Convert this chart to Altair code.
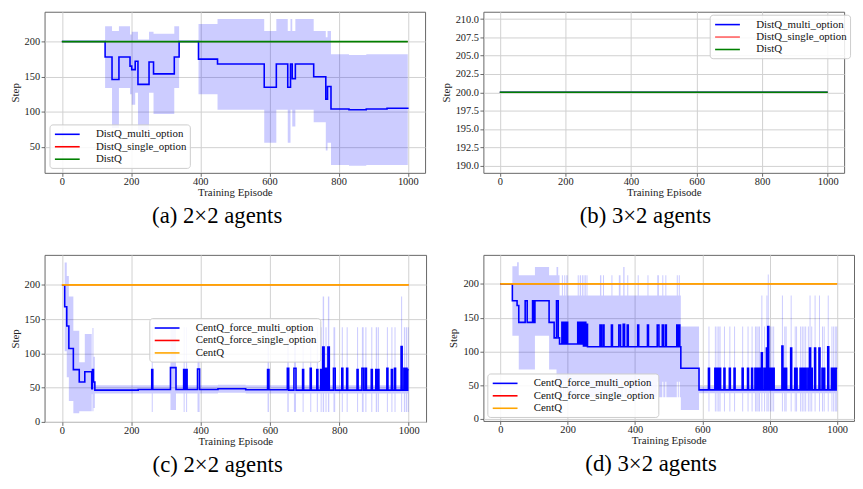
import altair as alt
import pandas as pd

FONT = "Liberation Serif, Times New Roman, Times, serif"

# ---------------- shared ----------------
x_ticks = [0, 200, 400, 600, 800, 1000]
flat_ep = [0, 1000]
flat_val = [200, 200]

# ---------------- (a) 2x2 DistQ ----------------
a_ep = [0, 125, 145, 165, 197, 202, 212, 220, 252, 265,
        325, 339, 395, 450, 585, 620, 653, 661, 666, 675,
        728, 763, 768, 778, 830, 880, 940, 1000]
a_mean = [200, 178, 146, 178, 165, 160, 172, 139, 171, 154,
          178, 200, 175, 168, 135, 168, 135, 168, 147, 168,
          150, 118, 136, 104, 103, 104, 105, 104]
a_lo = [200, 134, 77, 134, 125, 110, 127, 74, 127, 97,
        134, 200, 125, 103, 56, 103, 56, 103, 79, 103,
        85, 45, 56, 24, 23, 24, 24, 24]
a_hi = [200, 222, 215, 222, 210, 214, 214, 203, 214, 211,
        222, 200, 225, 232, 215, 232, 215, 232, 215, 232,
        215, 206, 215, 182, 181, 182, 182, 182]

# ---------------- (b) 3x2 DistQ ----------------
b_ep = [0, 1000]
b_mean = [200, 200]

# ---------------- (c) 2x2 CentQ ----------------
c_ep = [0, 8, 14, 20, 33, 50, 66, 86, 88, 91,
        95, 220, 259, 262, 313, 329, 351, 354, 358, 361,
        391, 397, 450, 530, 593, 597, 650, 654, 669, 675,
        694, 697, 716, 719, 735, 738, 746, 749, 752, 756,
        760, 763, 767, 771, 783, 788, 807, 810, 821, 824,
        851, 854, 865, 870, 875, 878, 892, 895, 905, 909,
        911, 914, 937, 940, 950, 953, 959, 962, 978, 981,
        986, 990, 992, 995, 997, 1000]
c_mean = [200, 168, 140, 107, 76, 58, 73, 48, 76, 58,
          46, 47, 76, 47, 79, 47, 76, 47, 76, 47,
          77, 47, 48, 46.5, 76, 46.5, 78, 46, 78, 46,
          76, 46, 78, 46, 76, 46, 76, 46, 109, 46,
          78, 46, 109, 46, 78, 46, 78, 46, 78, 46,
          76, 46, 78, 46, 78, 46, 76, 46, 76, 46,
          76, 46, 78, 46, 76, 46, 78, 46, 110, 46,
          78, 46, 78, 46, 76, 76]
c_lo = [200, 103, 65, 30, 12, 15, 15, 40, 15, 20,
        41, 41, 14, 41, 17, 41, 14, 41, 14, 41,
        14, 41, 42, 41, 14, 41, 14, 41, 14, 41,
        14, 41, 14, 41, 14, 41, 14, 41, 14, 41,
        14, 41, 14, 41, 14, 41, 14, 41, 14, 41,
        14, 41, 14, 41, 14, 41, 14, 41, 14, 41,
        14, 41, 14, 41, 14, 41, 14, 41, 14, 41,
        14, 41, 14, 41, 14, 14]
c_hi = [200, 233, 213, 183, 133, 87, 128, 56, 137, 95,
        53, 53, 138, 53, 138, 53, 138, 53, 138, 53,
        138, 53, 54, 53, 138, 53, 138, 53, 138, 53,
        138, 53, 138, 53, 138, 53, 138, 53, 183, 53,
        138, 53, 183, 53, 138, 53, 138, 53, 138, 53,
        138, 53, 138, 53, 138, 53, 138, 53, 138, 53,
        138, 53, 138, 53, 138, 53, 138, 53, 183, 53,
        138, 53, 138, 53, 138, 138]

# ---------------- (d) 3x2 CentQ ----------------
d_ep = [0, 36, 50, 55, 74, 80, 96, 99, 103, 145,
        160, 167, 172, 176, 183, 186, 190, 193, 196, 200,
        230, 233, 236, 240, 243, 247, 250, 254, 256, 259,
        296, 300, 305, 308, 330, 333, 352, 357, 365, 369,
        377, 380, 408, 411, 437, 440, 466, 471, 481, 484,
        490, 493, 524, 527, 530, 533, 536, 590, 618, 621,
        637, 640, 642, 645, 647, 650, 651, 654, 664, 667,
        680, 683, 694, 697, 718, 721, 734, 737, 746, 749,
        756, 759, 760, 763, 764, 767, 768, 771, 775, 778,
        783, 786, 790, 793, 794, 797, 800, 803, 805, 808,
        810, 813, 836, 839, 843, 846, 847, 850, 862, 865,
        874, 877, 878, 881, 890, 893, 895, 898, 900, 903,
        905, 908, 913, 916, 918, 921, 923, 926, 933, 936,
        946, 949, 955, 958, 960, 963, 972, 975, 983, 986,
        988, 991, 993, 996, 997, 1000]
d_mean = [200, 175, 168, 143, 175, 143, 175, 143, 175, 143,
          120, 175, 120, 111, 143, 111, 143, 111, 143, 111,
          143, 111, 143, 111, 143, 108, 143, 108, 140, 107,
          139, 107, 139, 107, 139, 107, 139, 107, 140, 107,
          139, 107, 139, 107, 139, 107, 139, 107, 139, 107,
          139, 107, 139, 107, 139, 107, 75, 43, 75, 43,
          75, 43, 75, 43, 75, 43, 75, 43, 75, 43,
          75, 43, 75, 43, 75, 43, 75, 43, 75, 43,
          75, 43, 75, 43, 75, 43, 75, 43, 98, 43,
          75, 43, 105, 43, 137, 43, 75, 43, 75, 43,
          75, 43, 108, 43, 75, 43, 75, 43, 105, 43,
          75, 43, 75, 43, 75, 43, 75, 43, 75, 43,
          75, 43, 75, 43, 105, 43, 75, 43, 105, 43,
          105, 43, 75, 43, 75, 43, 107, 43, 75, 43,
          75, 43, 75, 43, 75, 75]
d_lo = [200, 123, 123, 73, 73, 73, 73, 73, 123, 73,
        73, 50, 50, 32, 55, 32, 55, 32, 55, 32,
        55, 32, 55, 32, 55, 32, 55, 32, 55, 32,
        55, 32, 55, 32, 55, 32, 55, 32, 55, 32,
        55, 32, 55, 32, 55, 32, 55, 32, 55, 32,
        55, 32, 55, 32, 55, 32, 13, 38, 11, 38,
        11, 38, 11, 38, 11, 38, 11, 38, 11, 38,
        11, 38, 11, 38, 11, 38, 11, 38, 11, 38,
        11, 38, 11, 38, 11, 38, 11, 38, 11, 38,
        11, 38, 11, 38, 11, 38, 11, 38, 11, 38,
        11, 38, 11, 38, 11, 38, 11, 38, 11, 38,
        11, 38, 11, 38, 11, 38, 11, 38, 11, 38,
        11, 38, 11, 38, 11, 38, 11, 38, 11, 38,
        11, 38, 11, 38, 11, 38, 11, 38, 11, 38,
        11, 38, 11, 38, 11, 11]
d_hi = [201.5, 226, 232, 213, 213, 213, 213, 213, 225, 213,
        213, 225, 213, 183, 213, 183, 213, 183, 213, 183,
        213, 183, 213, 183, 213, 183, 213, 183, 213, 183,
        213, 183, 213, 183, 213, 183, 213, 183, 225, 183,
        213, 183, 213, 183, 213, 183, 213, 183, 213, 183,
        213, 183, 213, 183, 213, 183, 137, 48, 137, 48,
        137, 48, 137, 48, 137, 48, 137, 48, 137, 48,
        137, 48, 137, 48, 137, 48, 137, 48, 137, 48,
        137, 48, 137, 48, 137, 48, 137, 48, 183, 48,
        137, 48, 183, 48, 214, 48, 137, 48, 137, 48,
        137, 48, 183, 48, 137, 48, 137, 48, 183, 48,
        137, 48, 137, 48, 137, 48, 137, 48, 137, 48,
        137, 48, 137, 48, 183, 48, 137, 48, 183, 48,
        183, 48, 137, 48, 137, 48, 183, 48, 137, 48,
        137, 48, 137, 48, 137, 137]

dist_names = ["DistQ_multi_option", "DistQ_single_option", "DistQ"]
cent_names = ["CentQ_force_multi_option", "CentQ_force_single_option", "CentQ"]


def make_legend(**kw):
    # a long horizontal line glyph on a small symbol area keeps rows compact
    return alt.Legend(
        title=None,
        symbolType="M-2.2,0H2.2",
        symbolSize=130,
        symbolStrokeWidth=1.6,
        symbolFillColor="transparent",
        labelFont=FONT,
        labelFontSize=11,
        labelColor="#111111",
        labelOffset=22,
        symbolOffset=8,
        padding=3,
        rowPadding=0.6,
        fillColor="rgba(255,255,255,0.85)",
        strokeColor="#cccccc",
        cornerRadius=3,
        **kw,
    )


def make_panel(ep, mean, lo, hi, names, colors, ydom, yticks, yfmt,
               w, h, legend, caption, base_w=1.9):
    xs = alt.Scale(domain=[-50, 1050], nice=False, zero=False)
    ys = alt.Scale(domain=ydom, nice=False, zero=False)
    xax = alt.Axis(values=x_ticks, title="Training Episode", format="d")
    yax = alt.Axis(values=yticks, title="Step", format=yfmt)
    col = alt.Color("series:N", scale=alt.Scale(domain=names, range=colors),
                    legend=legend, sort=names)
    layers = []
    if lo is not None:
        bdf = pd.DataFrame({"ep": ep, "lo": lo, "hi": hi})
        layers.append(
            alt.Chart(bdf).mark_area(interpolate="step-after", color="#0000ff",
                                     opacity=0.2)
            .encode(x=alt.X("ep:Q", scale=xs, axis=xax),
                    y=alt.Y("lo:Q", scale=ys, axis=yax), y2="hi:Q")
        )
    mdf = pd.DataFrame({"ep": ep, "val": mean, "series": names[0]})
    sdf = pd.DataFrame({"ep": flat_ep, "val": flat_val, "series": names[1]})
    gdf = pd.DataFrame({"ep": flat_ep, "val": flat_val, "series": names[2]})
    for df, sw in ((mdf, 1.6), (sdf, 0.9), (gdf, base_w)):
        layers.append(
            alt.Chart(df).mark_line(interpolate="step-after", strokeWidth=sw)
            .encode(x=alt.X("ep:Q", scale=xs, axis=xax),
                    y=alt.Y("val:Q", scale=ys, axis=yax), color=col)
        )
    return alt.layer(*layers).properties(
        width=w, height=h,
        title=alt.TitleParams(text=caption, orient="bottom", anchor="middle",
                              frame="bounds", font=FONT, fontSize=23,
                              fontWeight="normal", color="black", offset=8),
    )


A = make_panel(a_ep, a_mean, a_lo, a_hi, dist_names, ["#0000ff", "#ff0000", "#008000"],
               [13, 242.5], [50, 100, 150, 200], "d", 385, 163,
               make_legend(orient="bottom-left", offset=5), "(a) 2×2 agents")
B = make_panel(b_ep, b_mean, None, None, dist_names, ["#0000ff", "#ff6060", "#008000"],
               [189, 211], [190, 192.5, 195, 197.5, 200, 202.5, 205, 207.5, 210], ".1f",
               365, 163, make_legend(orient="none", legendX=229, legendY=3),
               "(b) 3×2 agents", 1.6)
C = make_panel(c_ep, c_mean, c_lo, c_hi, cent_names, ["#0000ff", "#ff0000", "#ffa500"],
               [-0.5, 244], [0, 50, 100, 150, 200], "d", 386, 169,
               make_legend(orient="none", legendX=106, legendY=64), "(c) 2×2 agents")
D = make_panel(d_ep, d_mean, d_lo, d_hi, cent_names, ["#0000ff", "#ff0000", "#ffa500"],
               [-3, 243], [0, 50, 100, 150, 200], "d", 375, 168,
               make_legend(orient="bottom-left", offset=4), "(d) 3×2 agents")

left = alt.vconcat(A, C, spacing=25).resolve_scale(color="independent")
right = alt.vconcat(B, D, spacing=25).resolve_scale(color="independent")

chart = (
    alt.hconcat(left, right, spacing=12)
    .resolve_scale(color="independent")
    .properties(padding={"left": 0, "top": 0, "right": 0, "bottom": 0})
    .configure_view(stroke="#666666", strokeWidth=1)
    .configure_axis(
        domain=False,
        grid=True,
        gridColor="#d0d0d0",
        gridWidth=1,
        tickSize=3.5,
        tickColor="#444444",
        tickWidth=0.8,
        labelFont=FONT,
        labelFontSize=10.5,
        labelColor="#222222",
        labelFlush=False,
        labelOverlap=False,
        titleFont=FONT,
        titleFontSize=11,
        titleFontWeight="normal",
        titleColor="#222222",
    )
    .configure_axisX(titlePadding=0, labelPadding=0)
    .configure_axisY(titlePadding=4, labelPadding=1.5)
)

chart.save("out.html", embed_options={"renderer": "svg", "actions": False})
